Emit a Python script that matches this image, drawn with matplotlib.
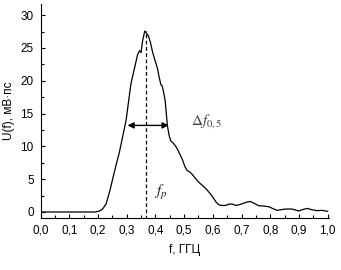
import matplotlib
matplotlib.use("Agg")
from matplotlib import pyplot as plt
from matplotlib.ticker import MultipleLocator, FuncFormatter

# spectrum
freq = [0.0, 0.10, 0.19, 0.205, 0.216, 0.228, 0.24, 0.251, 0.262, 0.274, 0.286,
        0.298, 0.307, 0.315, 0.326, 0.338, 0.345, 0.350, 0.355, 0.363, 0.370,
        0.376, 0.383, 0.390, 0.398, 0.407, 0.413, 0.419, 0.423, 0.428, 0.434,
        0.438, 0.442, 0.448, 0.454, 0.462, 0.471, 0.480, 0.494, 0.503, 0.511,
        0.520, 0.529, 0.540, 0.552, 0.565, 0.575, 0.587, 0.598, 0.610, 0.618,
        0.627, 0.636, 0.645, 0.656, 0.668, 0.680, 0.691, 0.705, 0.718, 0.731,
        0.745, 0.760, 0.778, 0.795, 0.810, 0.824, 0.838, 0.853, 0.876, 0.899,
        0.912, 0.928, 0.945, 0.963, 0.980, 1.0]
u = [0, 0, 0, 0.15, 0.45, 1.2, 3.0, 5.0, 7.0, 9.0, 11.5,
     14.0, 17.0, 19.6, 21.7, 24.0, 24.6, 24.3, 26.0, 27.6, 27.2,
     26.8, 25.8, 24.4, 23.2, 21.9, 20.6, 19.4, 19.3, 18.4, 17.0,
     15.0, 13.1, 11.6, 10.8, 10.5, 10.0, 9.3, 8.0, 6.9, 6.3,
     6.1, 5.7, 5.1, 4.5, 4.0, 3.6, 3.0, 2.4, 1.6, 1.2,
     1.0, 1.0, 1.0, 1.2, 1.2, 1.0, 1.1, 1.3, 1.5, 1.6,
     1.3, 0.95, 0.9, 0.8, 0.5, 0.25, 0.35, 0.45, 0.45, 0.15,
     0.35, 0.55, 0.35, 0.2, 0.25, 0.1]

f_peak = 0.368
u_peak = 27.6
half_left, half_right, half_level = 0.303, 0.446, 13.2

plt.rcParams['font.family'] = ['Liberation Sans', 'DejaVu Sans']
plt.rcParams['mathtext.fontset'] = 'stix'
fig = plt.figure(figsize=(3.41, 2.70), dpi=100)
ax = fig.add_axes([0.119, 0.193, 0.846, 0.792])

ax.plot(freq, u, color='black', lw=0.9)
ax.plot([f_peak, f_peak], [-1, u_peak], color='black', lw=0.9, ls=(0, (3, 2)))
ax.annotate('', xy=(half_left, half_level), xytext=(half_right, half_level),
            arrowprops=dict(arrowstyle='<|-|>', color='black', lw=1.0,
                            mutation_scale=9, shrinkA=0, shrinkB=0))
ax.text(0.525, 13.8, r'$\Delta f_{0,5}$', fontsize=11, color='#444444',
        va='center')
ax.text(0.395, 3.0, r'$f_p$', fontsize=11, color='#222222', va='center')

ax.set_xlim(0, 1.005)
ax.set_ylim(-0.9, 31.7)
ax.xaxis.set_major_locator(MultipleLocator(0.1))
ax.xaxis.set_minor_locator(MultipleLocator(0.05))
ax.yaxis.set_major_locator(MultipleLocator(5))
ax.yaxis.set_minor_locator(MultipleLocator(2.5))
ax.xaxis.set_major_formatter(FuncFormatter(lambda v, p: f'{v:.1f}'.replace('.', ',')))
ax.tick_params(which='both', direction='in', labelsize=8.5, width=0.8)
ax.tick_params(which='major', length=3, pad=5)
ax.tick_params(which='minor', length=2)
for side in ('top', 'right'):
    ax.spines[side].set_visible(False)
ax.set_xlabel('f, ГГЦ', fontsize=8.5, labelpad=5)
ax.set_ylabel('U(f), мВ·пс', fontsize=8.5, labelpad=4)

fig.savefig('out.png', dpi=100)
